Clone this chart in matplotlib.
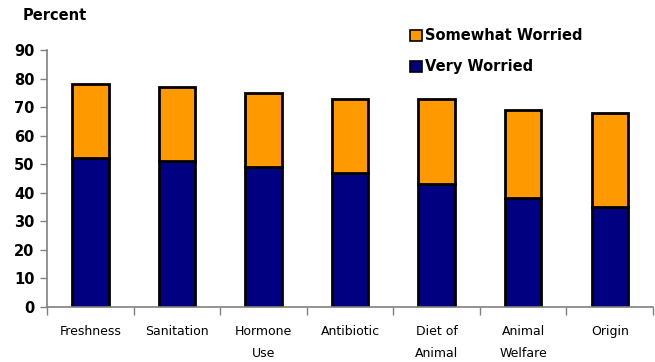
import numpy as np
import matplotlib.pyplot as plt
from matplotlib.patches import Patch

# Worry about meat attributes, percent of respondents
categories = ["Freshness", "Sanitation", "Hormone\nUse", "Antibiotic",
              "Diet of\nAnimal", "Animal\nWelfare", "Origin"]
very_worried = [52, 51, 49, 47, 43, 38, 35]
somewhat_worried = [26, 26, 26, 26, 30, 31, 33]

navy = "#000080"
orange = "#FF9900"

fig = plt.figure(figsize=(6.55, 3.62), dpi=100)
ax = fig.add_axes([0.072, 0.152, 0.925, 0.71])

x = np.arange(len(categories))
ax.bar(x, very_worried, width=0.42, color=navy, edgecolor="black", linewidth=2)
ax.bar(x, somewhat_worried, width=0.42, bottom=very_worried, color=orange,
       edgecolor="black", linewidth=2)

ax.set_xlim(-0.5, len(categories) - 0.5)
ax.set_ylim(0, 90)
ax.set_yticks(np.arange(0, 91, 10))
ax.set_yticklabels([str(v) for v in range(0, 91, 10)], fontsize=10.5, fontweight="bold")

# category labels in the middle, tick marks between the categories
ax.set_xticks(x)
ax.set_xticklabels(categories, fontsize=9, linespacing=1.9, va="top")
ax.tick_params(axis="x", length=0, pad=13)
ax.set_xticks(np.arange(-0.5, len(categories) + 0.5, 1), minor=True)
ax.tick_params(axis="x", which="minor", length=6, color="#808080", width=1)
ax.tick_params(axis="y", length=5, color="#808080", width=1, pad=4)

for s in ["top", "right"]:
    ax.spines[s].set_visible(False)
for s in ["left", "bottom"]:
    ax.spines[s].set_color("#808080")
    ax.spines[s].set_linewidth(1.2)

fig.text(0.034, 0.945, "Percent", fontsize=10.5, fontweight="bold")

handles = [Patch(facecolor=orange, edgecolor="black", linewidth=1.2),
           Patch(facecolor=navy, edgecolor="black", linewidth=1.2)]
fig.legend(handles, ["Somewhat Worried", "Very Worried"], loc="upper left",
           bbox_to_anchor=(0.606, 0.958), frameon=False, handlelength=0.8,
           handleheight=0.8, handletextpad=0.2, labelspacing=1.1,
           prop={"size": 10.5, "weight": "bold"})

fig.savefig("out.png", dpi=100)
